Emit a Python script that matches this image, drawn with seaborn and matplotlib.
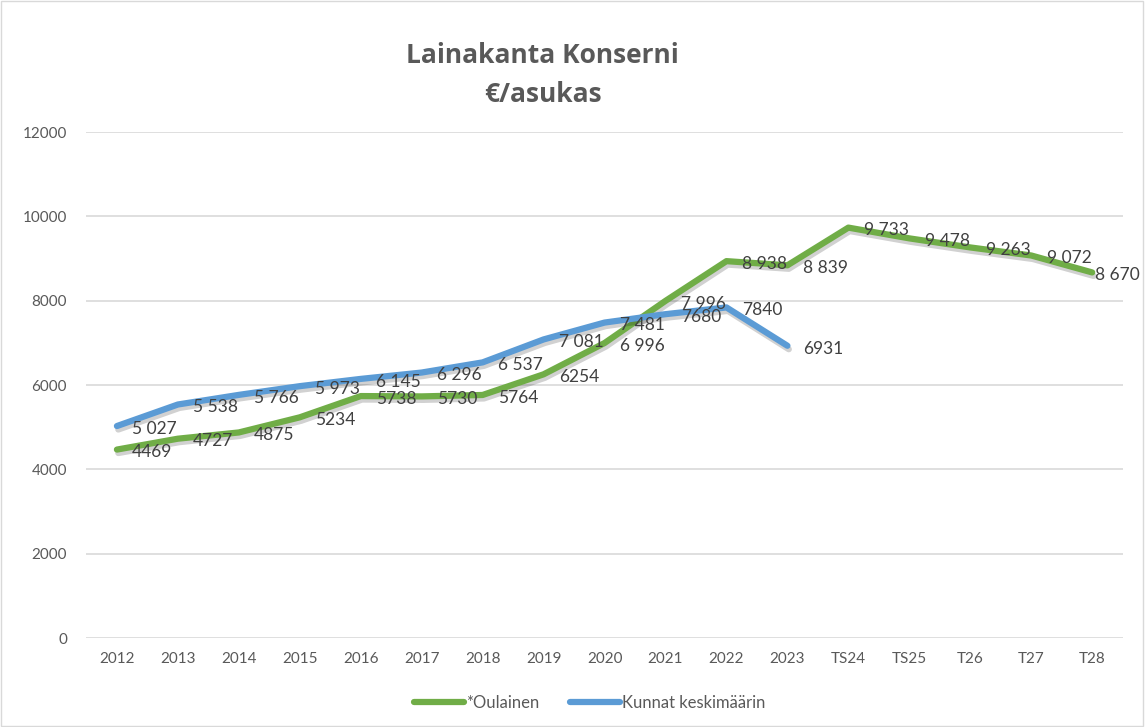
import matplotlib

matplotlib.use("Agg")

import matplotlib.pyplot as plt
import matplotlib.patheffects as pe
import pandas as pd
import seaborn as sns

# ------------------------------------------------------------------
# Data
# ------------------------------------------------------------------
years = ["2012", "2013", "2014", "2015", "2016", "2017", "2018", "2019",
         "2020", "2021", "2022", "2023", "TS24", "TS25", "T26", "T27", "T28"]

oulainen = [4469, 4727, 4875, 5234, 5738, 5730, 5764, 6254,
            6996, 7996, 8938, 8839, 9733, 9478, 9263, 9072, 8670]
oulainen_labels = ["4469", "4727", "4875", "5234", "5738", "5730", "5764", "6254",
                   "6 996", "7 996", "8 938", "8 839", "9 733", "9 478", "9 263",
                   "9 072", "8 670"]

kunnat = [5027, 5538, 5766, 5973, 6145, 6296, 6537, 7081,
          7481, 7680, 7840, 6931]
kunnat_labels = ["5 027", "5 538", "5 766", "5 973", "6 145", "6 296", "6 537",
                 "7 081", "7 481", "7680", "7840", "6931"]

series_names = ["*Oulainen", "Kunnat keskimäärin"]
colors = ["#70AD47", "#5B9BD5"]

rows = []
for name, vals in zip(series_names, [oulainen, kunnat]):
    for i, v in enumerate(vals):
        rows.append({"pos": i, "year": years[i], "value": v, "series": name})
df = pd.DataFrame(rows)

# ------------------------------------------------------------------
# Figure
# ------------------------------------------------------------------
sns.set_theme(style="white")
plt.rcParams["font.family"] = ["Lato", "DejaVu Sans"]

fig = plt.figure(figsize=(11.45, 7.27), dpi=100)
ax = fig.add_axes([0.0755, 0.1224, 0.905, 0.696])

shadow = [pe.SimpleLineShadow(offset=(1, -2.5), shadow_color="black",
                              alpha=0.18), pe.Normal()]
sns.lineplot(data=df, x="pos", y="value", hue="series",
             hue_order=series_names, palette=colors, linewidth=4.5,
             sort=False, ax=ax, legend=True)
for line in ax.lines:
    line.set_path_effects(shadow)
    line.set_solid_capstyle("round")
    line.set_solid_joinstyle("round")

# data labels to the right of each point (last one pulled in to fit)
for vals, labels in [(oulainen, oulainen_labels), (kunnat, kunnat_labels)]:
    for i, (v, lab) in enumerate(zip(vals, labels)):
        dx = 2 if i == len(years) - 1 else 11
        ax.annotate(lab, (i, v), xytext=(dx, -2), textcoords="offset points",
                    ha="left", va="center", fontsize=12.5, color="#404040",
                    annotation_clip=False)

ax.set_xlim(-0.5, len(years) - 0.5)
ax.set_ylim(0, 12000)
ax.set_yticks(range(0, 12001, 2000))
ax.set_xticks(range(len(years)))
ax.set_xticklabels(years)
ax.tick_params(axis="both", labelsize=11, colors="#595959", length=0, pad=10)
ax.tick_params(axis="y", pad=14)
ax.grid(axis="y", color="#D9D9D9", linewidth=1.2)
ax.set_axisbelow(True)
for s in ax.spines.values():
    s.set_visible(False)
ax.set_xlabel("")
ax.set_ylabel("")

leg = ax.legend(loc="center", bbox_to_anchor=(0.515, 0.033),
                bbox_transform=fig.transFigure, ncol=2, frameon=False,
                fontsize=12, handlelength=3.0, handletextpad=0.15,
                columnspacing=1.8)
for t in leg.get_texts():
    t.set_color("#595959")
for h in leg.get_lines():
    h.set_linewidth(4.5)
    h.set_path_effects([])

fig.text(0.474, 0.897, "Lainakanta Konserni\n€/asukas", ha="center",
         va="center", fontsize=19, fontweight="bold", color="#595959",
         linespacing=1.55, family=["Open Sans", "DejaVu Sans"])

# thin chart-area border
fig.patches.append(plt.Rectangle((0.001, 0.001), 0.997, 0.997,
                                 transform=fig.transFigure, fill=False,
                                 edgecolor="#D9D9D9", linewidth=1))

fig.savefig("out.png", dpi=100)
plt.close(fig)
